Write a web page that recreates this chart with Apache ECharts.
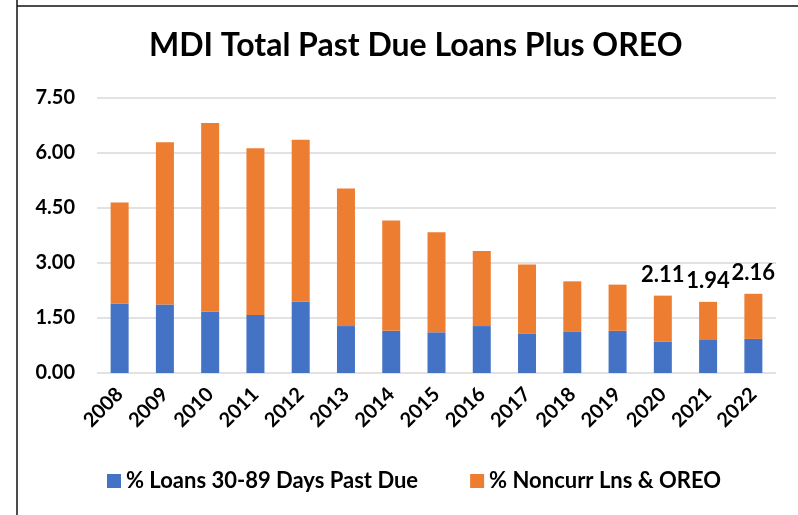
<!DOCTYPE html>
<html>
<head>
<meta charset="utf-8">
<script src="https://cdn.jsdelivr.net/npm/echarts@6/dist/echarts.min.js"></script>
<style>
  html, body { margin: 0; padding: 0; background: #fff; }
  #chart { width: 798px; height: 515px; }
</style>
</head>
<body>
<div id="chart"></div>
<script>
// years on the x axis
var years = ['2008', '2009', '2010', '2011', '2012', '2013', '2014', '2015',
             '2016', '2017', '2018', '2019', '2020', '2021', '2022'];
// % loans 30-89 days past due (blue)
var pastDue = [1.89, 1.87, 1.67, 1.58, 1.95, 1.28, 1.15, 1.11,
               1.28, 1.08, 1.12, 1.15, 0.85, 0.90, 0.93];
// % noncurrent loans & OREO (orange)
var noncurr = [2.76, 4.42, 5.15, 4.55, 4.41, 3.75, 3.01, 2.73,
               2.05, 1.88, 1.38, 1.26, 1.26, 1.04, 1.23];
// totals shown as labels on the last bars
var totalLabels = ['', '', '', '', '', '', '', '', '', '', '', '', '2.11', '1.94', '2.16'];
var yTicks = [0, 1.5, 3, 4.5, 6, 7.5];

var font = 'Lato, "Open Sans", sans-serif';

var chart = echarts.init(document.getElementById('chart'));

var option = {
    animation: false,
    backgroundColor: '#fff',
    title: {
        text: 'MDI Total Past Due Loans Plus OREO',
        left: 144,
        top: 25,
        textStyle: { fontFamily: font, fontSize: 32, fontWeight: 'bold', color: '#000' }
    },
    graphic: [
        { type: 'line', shape: { x1: 17, y1: 0, x2: 17, y2: 515 }, style: { stroke: '#111', lineWidth: 1.5 } },
        { type: 'line', shape: { x1: 17, y1: 6, x2: 798, y2: 6 }, style: { stroke: '#111', lineWidth: 1.5 } }
    ],
    legend: {
        bottom: 18,
        left: 102,
        itemWidth: 14,
        itemHeight: 14,
        itemGap: 52,
        icon: 'rect',
        textStyle: { fontFamily: font, fontSize: 22, fontWeight: 'bold', color: '#000' },
        data: ['% Loans 30-89 Days Past Due', '% Noncurr Lns & OREO']
    },
    grid: { left: 97, right: 22, top: 98, bottom: 142 },
    xAxis: {
        type: 'category',
        data: years,
        axisLine: { show: false },
        axisTick: { show: false },
        axisLabel: {
            rotate: 45,
            margin: 18,
            fontFamily: font, fontSize: 20, fontWeight: 'bold', color: '#000'
        }
    },
    yAxis: {
        type: 'value',
        min: yTicks[0],
        max: yTicks[yTicks.length - 1],
        interval: 1.5,
        axisLine: { show: false },
        axisTick: { show: false },
        splitLine: { lineStyle: { color: '#d9d9d9', width: 1.5 } },
        axisLabel: {
            margin: 22,
            fontFamily: font, fontSize: 20, fontWeight: 'bold', color: '#000',
            formatter: function (v) { return v.toFixed(2); }
        }
    },
    series: [
        {
            name: '% Loans 30-89 Days Past Due',
            type: 'bar',
            stack: 'total',
            barWidth: 18,
            itemStyle: { color: '#4472c4' },
            data: pastDue
        },
        {
            name: '% Noncurr Lns & OREO',
            type: 'bar',
            stack: 'total',
            barWidth: 18,
            itemStyle: { color: '#ed7d31' },
            label: {
                show: true,
                position: 'top',
                distance: 10,
                fontFamily: font, fontSize: 22, fontWeight: 'bold', color: '#000',
                formatter: function (p) { return totalLabels[p.dataIndex]; }
            },
            data: noncurr
        }
    ]
};

chart.setOption(option);
</script>
</body>
</html>
